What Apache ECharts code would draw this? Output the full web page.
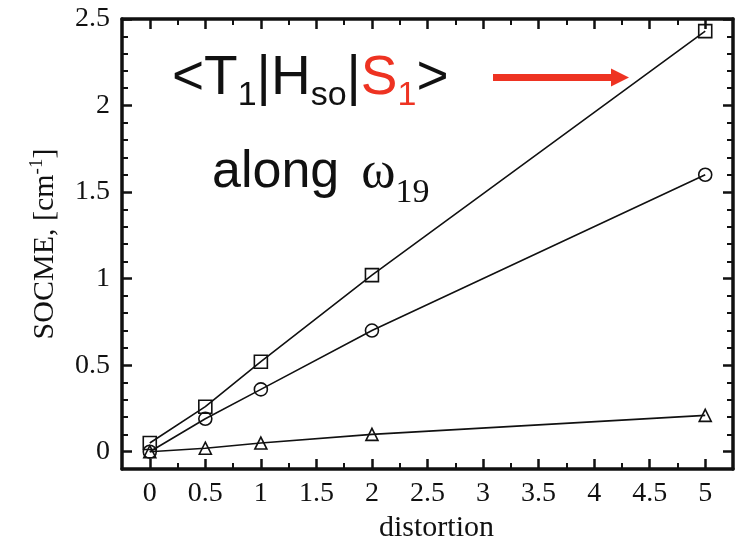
<!DOCTYPE html>
<html>
<head>
<meta charset="utf-8">
<script src="https://cdn.jsdelivr.net/npm/echarts@6/dist/echarts.min.js"></script>
<style>
  html, body { margin: 0; padding: 0; background: #fff; }
  #chart { width: 736px; height: 539px; }
</style>
</head>
<body>
<div id="chart"></div>
<script>
// Spin-orbit coupling matrix element vs. distortion along normal mode 19
const distortion = [0, 0.5, 1, 2, 5];
const squareSeries = [0.05, 0.26, 0.52, 1.02, 2.43];
const circleSeries = [0.00, 0.19, 0.36, 0.70, 1.60];
const triangleSeries = [0.00, 0.02, 0.05, 0.10, 0.21];

const xTicks = [0, 0.5, 1, 1.5, 2, 2.5, 3, 3.5, 4, 4.5, 5];
const yTicks = [0, 0.5, 1, 1.5, 2, 2.5];

const X_MIN = -0.25, X_MAX = 5.25;
const Y_MIN = -0.1, Y_MAX = 2.5;

// minor ticks: quarter steps on x, tenth steps on y
const xMinor = xTicks.slice(0, -1).map(v => v + 0.25);
const yMinor = [];
yTicks.slice(0, -1).forEach(v => { for (let k = 1; k < 5; k++) yMinor.push(+(v + k * 0.1).toFixed(2)); });

const serif = 'Liberation Serif';
const sans = 'Liberation Sans';
const ink = '#111';
const red = '#ee3322';

function pairs(ys) { return distortion.map((x, i) => [x, ys[i]]); }

function majorX(pos, withLabels) {
  return {
    type: 'value', position: pos, min: X_MIN, max: X_MAX, gridIndex: 0,
    axisLine: { show: true, onZero: false, lineStyle: { color: ink, width: 3.5 } },
    axisTick: { show: true, inside: true, length: 10, customValues: xTicks, lineStyle: { color: ink, width: 2.5 } },
    axisLabel: withLabels ? { show: true, customValues: xTicks, margin: 11, fontFamily: serif, fontSize: 28, color: ink } : { show: false },
    splitLine: { show: false },
    name: withLabels ? 'distortion' : '',
    nameLocation: 'middle', nameGap: 38,
    nameTextStyle: { fontFamily: serif, fontSize: 30, color: ink, padding: [0, 0, 0, 18] }
  };
}
function minorX(pos) {
  return {
    type: 'value', position: pos, min: X_MIN, max: X_MAX, gridIndex: 0,
    axisLine: { show: false, onZero: false },
    axisTick: { show: true, inside: true, length: 6, customValues: xMinor, lineStyle: { color: ink, width: 2 } },
    axisLabel: { show: false }, splitLine: { show: false }
  };
}
function majorY(pos, withLabels) {
  return {
    type: 'value', position: pos, min: Y_MIN, max: Y_MAX, gridIndex: 0,
    axisLine: { show: true, onZero: false, lineStyle: { color: ink, width: 3.5 } },
    axisTick: { show: true, inside: true, length: 10, customValues: yTicks, lineStyle: { color: ink, width: 2.5 } },
    axisLabel: withLabels ? { show: true, customValues: yTicks, margin: 12, fontFamily: serif, fontSize: 28, color: ink } : { show: false },
    splitLine: { show: false },
    name: withLabels ? '{a|SOCME, [cm}{s|-1}{a|]}' : '',
    nameLocation: 'middle', nameGap: 60,
    nameTextStyle: {
      fontFamily: serif, fontSize: 30, color: ink,
      rich: {
        a: { fontFamily: serif, fontSize: 30, color: ink, lineHeight: 34 },
        s: { fontFamily: serif, fontSize: 19, color: ink, lineHeight: 18, verticalAlign: 'top' }
      }
    }
  };
}
function minorY(pos) {
  return {
    type: 'value', position: pos, min: Y_MIN, max: Y_MAX, gridIndex: 0,
    axisLine: { show: false, onZero: false },
    axisTick: { show: true, inside: true, length: 6, customValues: yMinor, lineStyle: { color: ink, width: 2 } },
    axisLabel: { show: false }, splitLine: { show: false }
  };
}

function lineSeries(name, symbol, ys, size) {
  return {
    name, type: 'line', xAxisIndex: 0, yAxisIndex: 0,
    data: pairs(ys),
    symbol, symbolSize: size, showAllSymbol: true,
    lineStyle: { color: ink, width: 1.6 },
    itemStyle: { color: 'rgba(0,0,0,0)', borderColor: ink, borderWidth: 1.6 },
    emphasis: { disabled: true },
    animation: false, z: 3
  };
}

const chart = echarts.init(document.getElementById('chart'), null, { renderer: 'canvas' });
chart.setOption({
  backgroundColor: '#fff',
  animation: false,
  grid: { left: 122, right: 3, top: 19, bottom: 70, containLabel: false, outerBoundsMode: 'none' },
  xAxis: [majorX('bottom', true), majorX('top', false), minorX('bottom'), minorX('top')],
  yAxis: [majorY('left', true), majorY('right', false), minorY('left'), minorY('right')],
  series: [
    lineSeries('square', 'rect', squareSeries, 13),
    lineSeries('circle', 'circle', circleSeries, 13),
    lineSeries('triangle', 'triangle', triangleSeries, 12)
  ],
  graphic: [
    {
      type: 'text', left: 172, top: 51, z: 10,
      style: {
        text: '{m|<T}{s|1}{m||H}{s|so}{m||}{r|S}{rs|1}{m|>}',
        rich: {
          m: { fontFamily: sans, fontSize: 55, lineHeight: 62, fill: ink, verticalAlign: 'top' },
          r: { fontFamily: sans, fontSize: 55, lineHeight: 62, fill: red, verticalAlign: 'top' },
          s: { fontFamily: sans, fontSize: 34, lineHeight: 38, fill: ink, verticalAlign: 'bottom' },
          rs: { fontFamily: sans, fontSize: 34, lineHeight: 38, fill: red, verticalAlign: 'bottom' }
        }
      }
    },
    {
      type: 'text', left: 212, top: 147, z: 10,
      style: {
        text: '{a|along}{w|ω}{n|19}',
        rich: {
          a: { fontFamily: sans, fontSize: 52, lineHeight: 58, fill: ink, verticalAlign: 'top' },
          w: { fontFamily: serif, fontSize: 52, lineHeight: 58, fill: ink, verticalAlign: 'top', padding: [0, 0, 0, 22] },
          n: { fontFamily: serif, fontSize: 34, lineHeight: 34, fill: ink, verticalAlign: 'top', padding: [29, 0, 0, 0] }
        }
      }
    },
    {
      type: 'group', z: 10,
      children: [
        { type: 'rect', shape: { x: 493, y: 74, width: 121, height: 7 }, style: { fill: red } },
        { type: 'polygon', shape: { points: [[611, 68.5], [629, 77.5], [611, 86.5]] }, style: { fill: red } }
      ]
    }
  ]
});
</script>
</body>
</html>
